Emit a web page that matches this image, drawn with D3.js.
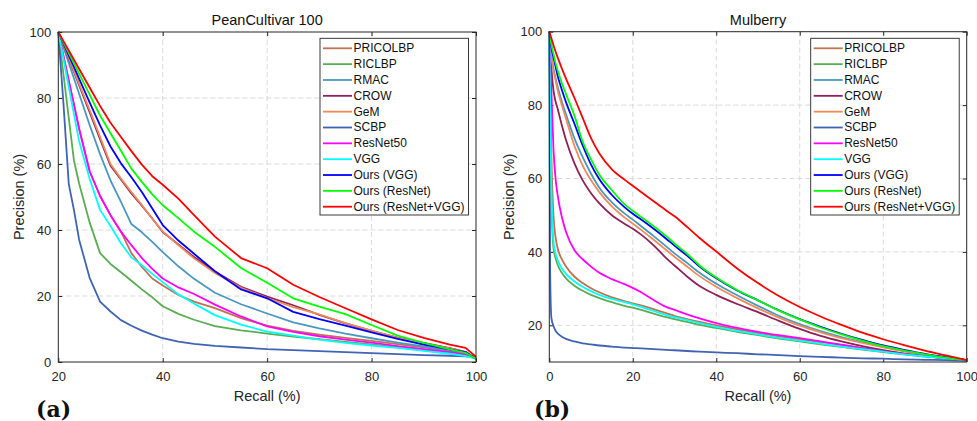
<!DOCTYPE html>
<html>
<head>
<meta charset="utf-8">
<script src="https://cdn.jsdelivr.net/npm/d3@7"></script>
<style>
  body { margin: 0; background: #fff; }
  svg { display: block; font-family: "Liberation Sans", Arial, Helvetica, sans-serif; }
</style>
</head>
<body>
<svg id="chart" width="977" height="421"></svg>
<script>
// Method names (legend order = plotting order)
const methods = ["PRICOLBP", "RICLBP", "RMAC", "CROW", "GeM", "SCBP",
                 "ResNet50", "VGG", "Ours (VGG)", "Ours (ResNet)", "Ours (ResNet+VGG)"];
const methodColors = ["#c0714f", "#5aad52", "#4a98c0", "#8e2158", "#ef8a5a", "#4064b4",
                      "#ff00ff", "#00ffff", "#0000ff", "#00ff00", "#ff0000"];

// PeanCultivar 100: recall (%) and precision (%) per method
const peanRecall = [20, 21, 22, 23, 24, 26, 28, 30, 32, 34, 36, 38, 40, 43, 46, 50, 55, 60, 65, 70, 75, 80, 85, 90, 95, 98, 100];
const peanPRICOLBP = [100, 92.6, 85.3, 78, 70.6, 57.8, 50.3, 44.5, 39.5, 33, 28.8, 25.3, 23.2, 20.3, 18.3, 16.3, 13.3, 11, 9.4, 8.3, 7.3, 6.4, 5.4, 4.4, 3.4, 2.6, 1.2];
const peanRICLBP = [100, 87, 74, 61, 54, 42.3, 33, 29.7, 27.2, 24.6, 22, 19.6, 16.9, 14.6, 12.8, 10.9, 9.6, 8.6, 7.7, 6.9, 6.1, 5.3, 4.4, 3.5, 2.6, 2, 1];
const peanRMAC = [100, 95.3, 90.6, 85.9, 81.2, 71.8, 63, 55, 48.5, 41.8, 39.3, 36.4, 33.3, 29, 25.2, 21, 17.5, 14.7, 12, 10.2, 8.6, 7.2, 5.9, 4.7, 3.4, 2.5, 1];
const peanCROW = [100, 96, 91.9, 87.9, 83.8, 75.7, 67.5, 59.5, 55.3, 51.1, 47.4, 43.5, 39.4, 35.6, 31.8, 27.4, 22.8, 19.8, 17.2, 14.3, 11.7, 9.4, 7.4, 5.8, 4.2, 3.1, 1];
const peanGeM = [100, 96.1, 92.2, 88.3, 84.3, 76.4, 68.2, 60, 55.6, 51.5, 47.6, 43.4, 39.6, 35.4, 31.4, 27, 22.5, 19.4, 16.6, 14.4, 11.8, 9.5, 7.3, 5.6, 4.1, 3, 1];
const peanSCBP = [100, 78, 54, 46, 37, 25.5, 18.3, 15.3, 12.7, 11, 9.5, 8.3, 7.2, 6.2, 5.5, 4.9, 4.4, 3.9, 3.6, 3.3, 3, 2.7, 2.4, 2.1, 1.9, 1.7, 1.5];
const peanResNet50 = [100, 92.6, 85.3, 78, 70.6, 57.8, 50.3, 44.5, 39.5, 35.4, 31.5, 28.2, 25.3, 22.6, 20.6, 17.4, 13.8, 10.8, 9.1, 7.8, 6.8, 5.9, 4.8, 3.9, 3, 2.3, 1.5];
const peanVGG = [100, 91.7, 83.4, 75.1, 66.8, 55.5, 46.1, 41.2, 36, 31.7, 29.3, 26.7, 24.2, 20.5, 17.7, 14.2, 11.3, 9.2, 8, 6.8, 5.8, 5, 4.3, 3.4, 2.5, 1.8, 1];
const peanOursVGG = [100, 96.5, 92.9, 89.4, 85.8, 78.7, 71.7, 65.3, 60.2, 56, 51.5, 46.5, 41.5, 36.8, 32.8, 27.5, 22, 19.3, 15.2, 13, 11, 9, 7, 5.3, 3.8, 3, 1];
const peanOursResNet = [100, 96.8, 93.7, 90.5, 87.4, 81, 74.7, 69.3, 64, 58.6, 54.6, 50.8, 47.5, 43.6, 39.5, 34.9, 28.5, 24, 19.3, 16.8, 14.5, 11.2, 8, 5.8, 3.8, 2.8, 1];
const peanOursResNetVGG = [100, 97.2, 94.4, 91.6, 88.8, 83.2, 77.6, 72.5, 68.2, 63.9, 59.8, 56.3, 53.7, 49.5, 44.5, 38, 31.5, 28.4, 23.4, 19.7, 16.3, 12.9, 9.7, 7.3, 5.3, 4.3, 1.6];

// Mulberry: recall (%) and precision (%) per method
const mulRecall = [0, 0.2, 0.5, 1, 1.5, 2, 3, 4, 6, 8, 10, 12, 15, 18, 20, 22, 25, 28, 30, 33, 36, 40, 45, 50, 55, 60, 65, 70, 75, 80, 85, 90, 95, 100];
const mulPRICOLBP = [100, 85, 66, 50, 44, 41, 38, 36, 33.3, 31.5, 30.1, 29, 27.6, 26.6, 26, 25.4, 24.4, 23.3, 22.6, 21.7, 20.9, 20, 18.9, 17.9, 17, 16.2, 15.4, 14.6, 13.8, 13, 12.3, 11.6, 11, 10.5];
const mulRICLBP = [100, 78, 54, 41, 38.3, 36.5, 34.3, 32.8, 30.8, 29.4, 28.3, 27.4, 26.3, 25.3, 24.8, 24.2, 23.2, 22.2, 21.7, 20.9, 20.1, 19.3, 18.2, 17.3, 16.4, 15.6, 14.8, 14.1, 13.4, 12.7, 12.1, 11.5, 11, 10.5];
const mulRMAC = [100, 97.5, 93.8, 90, 87.3, 85, 81, 77.5, 71, 65.8, 61.3, 57.5, 53.5, 50.5, 48.8, 47, 44.3, 41.5, 39.6, 37, 34.3, 31.3, 28.2, 25.3, 22.6, 20.3, 18.4, 16.8, 15.4, 14.1, 13, 12, 11.2, 10.5];
const mulCROW = [100, 95.5, 90, 84, 81, 79, 74.5, 70.5, 64.2, 59.5, 56, 53.2, 50, 47.7, 46.3, 44.7, 41.8, 38.3, 36.3, 33.3, 30.7, 28.3, 25.8, 23.6, 21.2, 19, 17.1, 15.6, 14.3, 13.2, 12.3, 11.6, 11, 10.5];
const mulGeM = [100, 97.3, 93.3, 89.5, 86.8, 84, 80, 76.3, 69, 63.5, 59.5, 56.3, 52.4, 49.4, 47.7, 46, 43.3, 40.5, 38.7, 36, 33.4, 30.5, 27.4, 24.6, 22.1, 19.9, 18.1, 16.5, 15.2, 14, 12.9, 12, 11.2, 10.5];
const mulSCBP = [100, 35, 22, 19.8, 18.5, 17.8, 16.9, 16.3, 15.6, 15.1, 14.8, 14.5, 14.2, 13.9, 13.8, 13.7, 13.5, 13.3, 13.2, 13, 12.8, 12.6, 12.4, 12.1, 11.9, 11.6, 11.4, 11.2, 11, 10.9, 10.7, 10.6, 10.5, 10.3];
const mulResNet50 = [100, 92, 84, 68, 60, 55.5, 49.5, 45.5, 40.5, 38, 36, 34.3, 32.6, 31.2, 30.2, 29, 26.9, 25, 24.2, 23, 21.9, 20.6, 19.3, 18.2, 17.3, 16.5, 15.6, 14.7, 13.8, 12.9, 12.2, 11.6, 11, 10.5];
const mulVGG = [100, 80, 57, 43, 39.5, 37.8, 35.5, 34, 32, 30.5, 29.3, 28.3, 27.2, 26.3, 25.7, 25, 23.9, 22.8, 22.2, 21.4, 20.6, 19.6, 18.5, 17.5, 16.6, 15.8, 15, 14.2, 13.5, 12.8, 12.1, 11.5, 11, 10.5];
const mulOursVGG = [100, 98.2, 95.8, 93, 90.5, 88, 84.2, 80.8, 75, 69, 63.8, 59.8, 55.5, 52.2, 50.4, 48.8, 46.3, 43.6, 41.7, 39, 36, 32.8, 29.5, 26.8, 24.1, 21.7, 19.6, 17.7, 16, 14.5, 13.3, 12.2, 11.3, 10.5];
const mulOursResNet = [100, 98.5, 96.5, 94, 91.5, 89.5, 86, 83, 77.2, 70, 65.2, 61, 56.8, 53, 51.2, 49.5, 47, 44.3, 42.3, 39.5, 36.3, 33, 29.6, 26.8, 24, 21.6, 19.4, 17.5, 15.8, 14.3, 13.1, 12.1, 11.2, 10.5];
const mulOursResNetVGG = [100, 99.3, 98.2, 96.3, 94.6, 93, 90, 87.2, 82, 76.5, 71, 66.8, 62.5, 59.7, 58, 56.3, 53.8, 51.3, 49.7, 46.8, 43.8, 40.1, 35.5, 31.5, 28, 25, 22.4, 20.1, 18, 16.2, 14.6, 13.1, 11.8, 10.5];

// Axis ticks
const peanXTicks = [20, 40, 60, 80, 100];
const peanYTicks = [0, 20, 40, 60, 80, 100];
const mulXTicks = [0, 20, 40, 60, 80, 100];
const mulYTicks = [20, 40, 60, 80, 100];

const panels = [
  {
    title: "PeanCultivar 100", tag: "(a)",
    recall: peanRecall,
    series: [peanPRICOLBP, peanRICLBP, peanRMAC, peanCROW, peanGeM, peanSCBP,
             peanResNet50, peanVGG, peanOursVGG, peanOursResNet, peanOursResNetVGG],
    xDomain: [20, 100], yDomain: [0, 100], xTicks: peanXTicks, yTicks: peanYTicks,
    left: 58.3, right: 476, top: 32, bottom: 362,
    legendX: 320, tagX: 36, ylabelX: 19, curve: d3.curveLinear
  },
  {
    title: "Mulberry", tag: "(b)",
    recall: mulRecall,
    series: [mulPRICOLBP, mulRICLBP, mulRMAC, mulCROW, mulGeM, mulSCBP,
             mulResNet50, mulVGG, mulOursVGG, mulOursResNet, mulOursResNetVGG],
    xDomain: [0, 100], yDomain: [10, 100], xTicks: mulXTicks, yTicks: mulYTicks,
    left: 549.3, right: 966.7, top: 31.7, bottom: 362,
    legendX: 810.7, tagX: 534, ylabelX: 509, curve: d3.curveMonotoneX
  }
];

const svg = d3.select("#chart");
const axisColor = "#262626";

panels.forEach(p => {
  const x = d3.scaleLinear().domain(p.xDomain).range([p.left, p.right]);
  const y = d3.scaleLinear().domain(p.yDomain).range([p.bottom, p.top]);
  const g = svg.append("g");

  // dashed grid
  const grid = g.append("g").attr("stroke", "#d6d6d6").attr("stroke-width", 0.9)
    .attr("stroke-dasharray", "5,3");
  p.xTicks.filter(t => t > p.xDomain[0] && t < p.xDomain[1]).forEach(t => {
    grid.append("line").attr("x1", x(t)).attr("x2", x(t)).attr("y1", p.top).attr("y2", p.bottom);
  });
  p.yTicks.filter(t => t > p.yDomain[0] && t < p.yDomain[1]).forEach(t => {
    grid.append("line").attr("y1", y(t)).attr("y2", y(t)).attr("x1", p.left).attr("x2", p.right);
  });

  // axes with inward ticks on all four sides
  const styleAxis = sel => {
    sel.select(".domain").remove();
    sel.selectAll(".tick line").attr("stroke", axisColor).attr("stroke-width", 1);
    sel.selectAll(".tick text").attr("fill", axisColor).style("font-size", "13px")
      .style("font-family", "\"Liberation Sans\", Arial, sans-serif");
  };
  g.append("g").attr("transform", `translate(0,${p.bottom})`)
    .call(d3.axisBottom(x).tickValues(p.xTicks).tickSize(-4).tickPadding(10).tickFormat(d3.format("d")))
    .call(styleAxis);
  g.append("g").attr("transform", `translate(0,${p.top})`)
    .call(d3.axisTop(x).tickValues(p.xTicks).tickSize(-4).tickFormat(""))
    .call(styleAxis);
  g.append("g").attr("transform", `translate(${p.left},0)`)
    .call(d3.axisLeft(y).tickValues(p.yTicks).tickSize(-4).tickPadding(7).tickFormat(d3.format("d")))
    .call(styleAxis);
  g.append("g").attr("transform", `translate(${p.right},0)`)
    .call(d3.axisRight(y).tickValues(p.yTicks).tickSize(-4).tickFormat(""))
    .call(styleAxis);

  // precision-recall curves
  const line = d3.line().x(d => x(d[0])).y(d => y(d[1])).curve(p.curve);
  p.series.forEach((vals, i) => {
    const pts = p.recall.map((r, k) => [r, vals[k]]);
    g.append("path").datum(pts)
      .attr("d", line)
      .attr("fill", "none")
      .attr("stroke", methodColors[i])
      .attr("stroke-width", 1.8)
      .attr("stroke-linejoin", "round");
  });

  // frame
  g.append("rect").attr("x", p.left).attr("y", p.top)
    .attr("width", p.right - p.left).attr("height", p.bottom - p.top)
    .attr("fill", "none").attr("stroke", axisColor).attr("stroke-width", 1);

  // title and axis labels
  g.append("text").attr("x", (p.left + p.right) / 2).attr("y", 25)
    .attr("text-anchor", "middle").attr("fill", "#111").style("font-size", "14.5px")
    .text(p.title);
  g.append("text").attr("x", (p.left + p.right) / 2).attr("y", 401)
    .attr("text-anchor", "middle").attr("fill", axisColor).style("font-size", "14.5px")
    .text("Recall (%)");
  g.append("text")
    .attr("transform", `translate(${p.ylabelX},${(p.top + p.bottom) / 2}) rotate(-90)`)
    .attr("text-anchor", "middle").attr("dominant-baseline", "central")
    .attr("fill", axisColor).style("font-size", "14.5px")
    .text("Precision (%)");

  // legend
  const lg = g.append("g").attr("transform", `translate(${p.legendX},38.3)`);
  lg.append("rect").attr("width", 148.5).attr("height", 176.7)
    .attr("fill", "#fff").attr("stroke", axisColor).attr("stroke-width", 0.9);
  methods.forEach((name, i) => {
    const cy = 10 + i * 15.84;
    lg.append("line").attr("x1", 3).attr("x2", 32).attr("y1", cy).attr("y2", cy)
      .attr("stroke", methodColors[i]).attr("stroke-width", 1.8);
    lg.append("text").attr("x", 33.5).attr("y", cy)
      .attr("dominant-baseline", "central").attr("fill", "#111")
      .style("font-size", "12px").text(name);
  });

  // panel tag
  g.append("text").attr("x", p.tagX).attr("y", 417)
    .style("font-family", "\"DejaVu Serif\", serif").style("font-weight", "bold")
    .style("font-size", "22px").attr("fill", "#111").text(p.tag);
});
</script>
</body>
</html>
